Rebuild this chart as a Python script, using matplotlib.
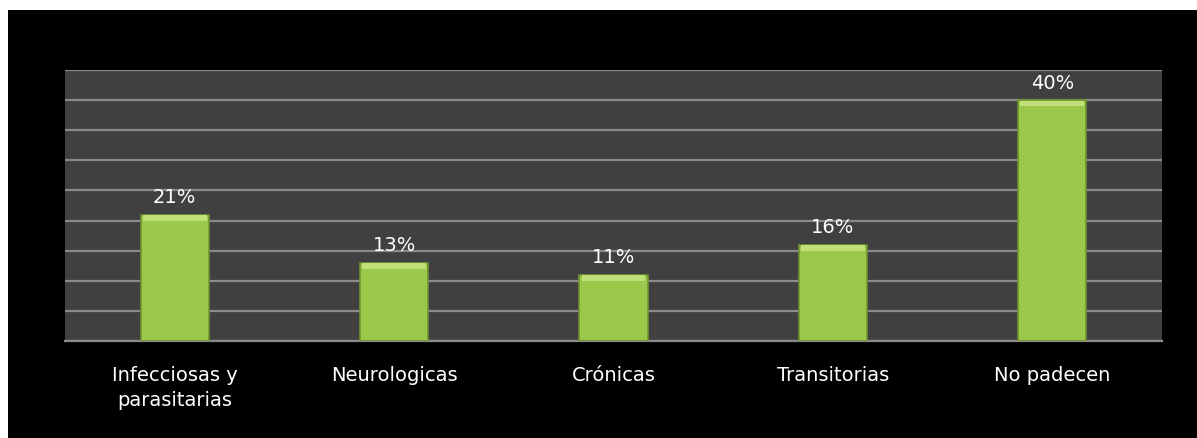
import matplotlib
matplotlib.use("Agg")
import matplotlib.pyplot as plt
from matplotlib.patches import Rectangle

categories = ["Infecciosas y\nparasitarias", "Neurologicas", "Crónicas", "Transitorias", "No padecen"]
values = [21, 13, 11, 16, 40]
labels = ["21%", "13%", "11%", "16%", "40%"]

fig = plt.figure(figsize=(11.97, 4.39), dpi=100)
fig.patch.set_facecolor("white")
# black chart area, white strip on top and left
fig.patches.append(Rectangle((8 / 1197, 0), 1, 1 - 11 / 439, transform=fig.transFigure,
                             facecolor="black", edgecolor="none", zorder=-10))

ax = fig.add_axes([65 / 1197, 1 - 342 / 439, (1162 - 65) / 1197, (342 - 71) / 439])
ax.set_facecolor("#404040")

x = list(range(len(categories)))
w = 0.31
ax.bar(x, values, width=w, color="#9bc84a", edgecolor="#6f9530", linewidth=1.2, zorder=3)
# light bevel at the top of each bar
ax.bar(x, [0.9] * len(values), width=w * 0.94, bottom=[v - 1.0 for v in values],
       color="#c2e07a", edgecolor="none", zorder=4)

for xi, v, lab in zip(x, values, labels):
    ax.text(xi, v + 3.0, lab, ha="center", va="center", color="white",
            fontsize=14, family="DejaVu Sans")

ax.set_xlim(-0.5, len(categories) - 0.5)
ax.set_ylim(0, 45)
ax.set_yticks(range(0, 46, 5))
ax.yaxis.grid(True, color="#8a8a8a", linewidth=1.6, zorder=1)
ax.set_axisbelow(True)
ax.tick_params(axis="y", left=False, labelleft=False)
ax.tick_params(axis="x", bottom=False, pad=14, colors="white")
ax.set_xticks(x)
ax.set_xticklabels(categories, fontsize=14, family="DejaVu Sans", color="white", va="top",
                   linespacing=1.35)
for s in ["top", "left", "right"]:
    ax.spines[s].set_visible(False)
ax.spines["bottom"].set_color("#8a8a8a")
ax.spines["bottom"].set_linewidth(1.6)

fig.savefig("out.png", dpi=100)
